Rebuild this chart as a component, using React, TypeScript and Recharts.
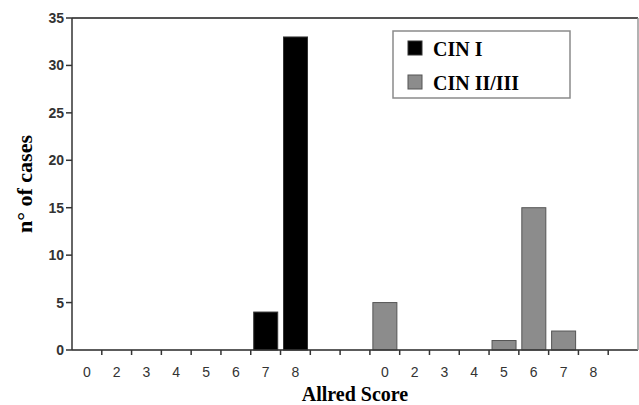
import React from "react";
import {
  BarChart,
  Bar,
  XAxis,
  YAxis,
  CartesianGrid,
  ReferenceLine,
} from "recharts";

// Allred score categories, CIN I group, two blank slots, CIN II/III group, one blank slot
const scoreLabels = ["0", "2", "3", "4", "5", "6", "7", "8", "", "", "0", "2", "3", "4", "5", "6", "7", "8", ""];
const cin1Values = [0, 0, 0, 0, 0, 0, 4, 33, null, null, null, null, null, null, null, null, null, null, null];
const cin2Values = [null, null, null, null, null, null, null, null, null, null, 5, 0, 0, 0, 1, 15, 2, 0, null];
const yTicks = [0, 5, 10, 15, 20, 25, 30, 35];
const seriesNames = ["CIN I", "CIN II/III"];

const data = scoreLabels.map((_, i) => ({
  idx: i,
  cin1: cin1Values[i],
  cin2: cin2Values[i],
}));

const W = 639;
const H = 405;
const LEFT = 72;
const RIGHT = 638;
const BAND = (RIGHT - LEFT) / scoreLabels.length;
const AXIS_Y = 350;
const SERIF = "Liberation Serif, Times New Roman, serif";

function XTick(props: any) {
  const { x, payload } = props;
  const i = payload.value as number;
  const left = x - BAND / 2;
  return (
    <g>
      {i > 0 && <line x1={left} x2={left} y1={AXIS_Y} y2={AXIS_Y + 5} stroke="#333" strokeWidth={1.5} />}
      <text
        x={x}
        y={AXIS_Y + 27}
        textAnchor="middle"
        fontFamily="Liberation Sans, Arial, sans-serif"
        fontSize={14}
        fill="#333"
      >
        {scoreLabels[i]}
      </text>
    </g>
  );
}

function PlainBar(props: any) {
  const { x, y, width, height, fill, stroke } = props;
  if (!height || height <= 0) return null;
  return <rect x={x} y={y} width={width} height={height} fill={fill} stroke={stroke} strokeWidth={1} />;
}

function LegendBox() {
  return (
    <svg width={180} height={70} style={{ display: "block" }}>
      <rect x={1} y={1} width={177} height={67} fill="#fff" stroke="#8a8a8a" strokeWidth={1.5} />
      <rect x={16} y={11} width={14} height={14} fill="#000" stroke="#333" />
      <text x={41} y={26} fontFamily={SERIF} fontWeight="bold" fontSize={20} fill="#000">
        {seriesNames[0]}
      </text>
      <rect x={16} y={45} width={14} height={14} fill="#8c8c8c" stroke="#555" />
      <text x={41} y={60} fontFamily={SERIF} fontWeight="bold" fontSize={20} fill="#000">
        {seriesNames[1]}
      </text>
    </svg>
  );
}

export default function App() {
  return (
    <div style={{ position: "relative", width: W, height: H, background: "#fff" }}>
      <style>{"body{margin:0}"}</style>
      <BarChart
        width={W}
        height={H}
        data={data}
        margin={{ top: 18, right: 0, left: 0, bottom: 0 }}
        barCategoryGap="10%"
      >
        <CartesianGrid vertical={false} stroke="#c8c8c8" strokeWidth={1.5} />
        <XAxis
          dataKey="idx"
          xAxisId="bottom"
          interval={0}
          height={55}
          axisLine={{ stroke: "#333", strokeWidth: 1.5 }}
          tickLine={false}
          tick={<XTick />}
          label={{
            value: "Allred Score",
            position: "insideBottom",
            offset: 4,
            style: {
              fontFamily: SERIF,
              fontWeight: "bold",
              fontSize: 20,
              fill: "#000",
            },
          }}
        />
        <YAxis
          yAxisId="left"
          width={LEFT}
          domain={[0, 35]}
          ticks={yTicks}
          interval={0}
          axisLine={{ stroke: "#333", strokeWidth: 1.5 }}
          tickLine={{ stroke: "#333", strokeWidth: 1.5 }}
          tickSize={6}
          tick={{
            fontFamily: "Liberation Sans, Arial, sans-serif",
            fontWeight: "bold",
            fontSize: 14,
            fill: "#333",
          }}
          label={{
            value: "n° of cases",
            angle: -90,
            position: "insideLeft",
            offset: 24,
            style: {
              fontFamily: SERIF,
              fontWeight: "bold",
              fontSize: 22,
              fill: "#000",
              textAnchor: "middle",
            },
          }}
        />
        <YAxis
          yAxisId="right"
          orientation="right"
          width={1}
          domain={[0, 35]}
          tick={false}
          tickLine={false}
          axisLine={{ stroke: "#999", strokeWidth: 1.5 }}
        />
        <ReferenceLine yAxisId="left" xAxisId="bottom" y={35} stroke="#555" strokeWidth={2} />
        <Bar
          dataKey="cin1"
          stackId="s"
          xAxisId="bottom"
          yAxisId="left"
          fill="#000"
          stroke="#333"
          shape={<PlainBar />}
          isAnimationActive={false}
        />
        <Bar
          dataKey="cin2"
          stackId="s"
          xAxisId="bottom"
          yAxisId="left"
          fill="#8c8c8c"
          stroke="#555"
          shape={<PlainBar />}
          isAnimationActive={false}
        />
      </BarChart>
      <div style={{ position: "absolute", left: 392, top: 30 }}>
        <LegendBox />
      </div>
    </div>
  );
}
